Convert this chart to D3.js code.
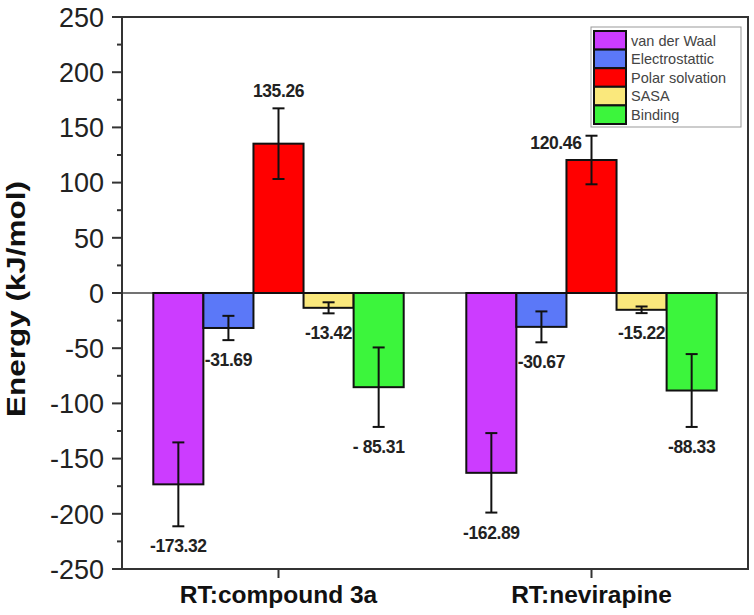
<!DOCTYPE html>
<html>
<head>
<meta charset="utf-8">
<script src="https://cdn.jsdelivr.net/npm/d3@7"></script>
<style>
  html, body { margin: 0; padding: 0; background: #fff; }
  svg { display: block; }
</style>
</head>
<body>
<svg id="chart" width="754" height="615"></svg>
<script>
// ---- data ----
const categories = ["RT:compound 3a", "RT:nevirapine"];
const seriesNames = ["van der Waal", "Electrostattic", "Polar solvation", "SASA", "Binding"];
const seriesColors = ["#cc3cff", "#5b78f8", "#ff0000", "#fae87c", "#3cf53c"];
const compound3aValues = [-173.32, -31.69, 135.26, -13.42, -85.31];
const nevirapineValues = [-162.89, -30.67, 120.46, -15.22, -88.33];
const compound3aErrors = [38, 11, 32, 5, 36];
const nevirapineErrors = [36, 14, 22, 3, 33];
const compound3aLabels = ["-173.32", "-31.69", "135.26", "-13.42", "- 85.31"];
const nevirapineLabels = ["-162.89", "-30.67", "120.46", "-15.22", "-88.33"];
const yTicks = [-250, -200, -150, -100, -50, 0, 50, 100, 150, 200, 250];
const yTitle = "Energy (kJ/mol)";

const valuesByCat = [compound3aValues, nevirapineValues];
const errorsByCat = [compound3aErrors, nevirapineErrors];
const labelsByCat = [compound3aLabels, nevirapineLabels];

const rows = [];
categories.forEach((c, ci) => {
  seriesNames.forEach((s, si) => {
    rows.push({cat: c, ci, series: s, si, value: valuesByCat[ci][si], err: errorsByCat[ci][si], label: labelsByCat[ci][si]});
  });
});

// ---- layout ----
const pLeft = 122, pRight = 748, pTop = 17, pBottom = 569;
const svg = d3.select("#chart");
const font = "'Liberation Sans', Arial, Helvetica, sans-serif";

const x0 = d3.scaleBand().domain(categories).range([pLeft, pRight]).paddingInner(0.2).paddingOuter(0.1);
const x1 = d3.scaleBand().domain(seriesNames).range([0, x0.bandwidth()]);
const y = d3.scaleLinear().domain([-250, 250]).range([pBottom, pTop]);
const color = d3.scaleOrdinal().domain(seriesNames).range(seriesColors);

// frame
svg.append("rect").attr("x", pLeft).attr("y", pTop).attr("width", pRight - pLeft).attr("height", pBottom - pTop)
  .attr("fill", "none").attr("stroke", "#333").attr("stroke-width", 2);

// zero line
svg.append("line").attr("x1", pLeft).attr("x2", pRight).attr("y1", y(0)).attr("y2", y(0))
  .attr("stroke", "#444").attr("stroke-width", 1.5);

// bars
const g = svg.append("g");
g.selectAll("rect.bar").data(rows).enter().append("rect").attr("class", "bar")
  .attr("x", d => x0(d.cat) + x1(d.series))
  .attr("width", x1.bandwidth())
  .attr("y", d => y(Math.max(0, d.value)))
  .attr("height", d => Math.abs(y(d.value) - y(0)))
  .attr("fill", d => color(d.series))
  .attr("stroke", "#111").attr("stroke-width", 2);

// error bars
const eb = g.selectAll("g.err").data(rows).enter().append("g").attr("class", "err")
  .attr("stroke", "#111").attr("stroke-width", 2);
const cx = d => x0(d.cat) + x1(d.series) + x1.bandwidth() / 2;
eb.append("line").attr("x1", cx).attr("x2", cx).attr("y1", d => y(d.value + d.err)).attr("y2", d => y(d.value - d.err));
eb.append("line").attr("x1", d => cx(d) - 6).attr("x2", d => cx(d) + 6).attr("y1", d => y(d.value + d.err)).attr("y2", d => y(d.value + d.err));
eb.append("line").attr("x1", d => cx(d) - 6).attr("x2", d => cx(d) + 6).attr("y1", d => y(d.value - d.err)).attr("y2", d => y(d.value - d.err));

// value labels
g.selectAll("text.val").data(rows).enter().append("text").attr("class", "val")
  .attr("font-family", font).attr("font-weight", "bold").attr("font-size", 17.5).attr("fill", "#222")
  .attr("letter-spacing", -0.4)
  .attr("text-anchor", d => (d.value > 0 && d.ci === 1) ? "end" : "middle")
  .attr("x", d => (d.value > 0 && d.ci === 1) ? cx(d) - 10 : cx(d))
  .attr("y", d => {
    if (d.value > 0) return d.ci === 1 ? y(d.value + d.err) + 13 : y(d.value + d.err) - 11;
    return y(d.value - d.err) + 26;
  })
  .text(d => d.label);

// y axis
const yAxis = svg.append("g").attr("transform", `translate(${pLeft},0)`);
yAxis.append("line").attr("x1", 0).attr("x2", 0).attr("y1", pTop).attr("y2", pBottom).attr("stroke", "#333").attr("stroke-width", 2);
const minorTicks = d3.range(-225, 250, 50);
yAxis.selectAll("line.minor").data(minorTicks).enter().append("line")
  .attr("x1", -5).attr("x2", 0).attr("y1", d => y(d)).attr("y2", d => y(d)).attr("stroke", "#333").attr("stroke-width", 2);
yAxis.selectAll("line.major").data(yTicks).enter().append("line")
  .attr("x1", -10).attr("x2", 0).attr("y1", d => y(d)).attr("y2", d => y(d)).attr("stroke", "#333").attr("stroke-width", 2);
yAxis.selectAll("text").data(yTicks).enter().append("text")
  .attr("x", -18).attr("y", d => y(d)).attr("dy", "0.36em")
  .attr("text-anchor", "end").attr("font-family", font).attr("font-size", 27).attr("fill", "#222")
  .text(d => d);

// x axis ticks and labels
const xAxis = svg.append("g");
xAxis.selectAll("line").data(categories).enter().append("line")
  .attr("x1", d => x0(d) + x0.bandwidth() / 2).attr("x2", d => x0(d) + x0.bandwidth() / 2)
  .attr("y1", pBottom).attr("y2", pBottom + 9).attr("stroke", "#333").attr("stroke-width", 2);
xAxis.selectAll("text").data(categories).enter().append("text")
  .attr("x", d => x0(d) + x0.bandwidth() / 2).attr("y", 603)
  .attr("text-anchor", "middle").attr("font-family", font).attr("font-weight", "bold").attr("font-size", 24.5).attr("fill", "#111")
  .text(d => d);

// y title
svg.append("text")
  .attr("transform", `translate(25,${(pTop + pBottom) / 2 + 6}) rotate(-90)`)
  .attr("text-anchor", "middle").attr("font-family", font).attr("font-weight", "bold").attr("font-size", 25).attr("fill", "#111")
  .attr("textLength", 236).attr("lengthAdjust", "spacingAndGlyphs")
  .text(yTitle);

// legend
const lg = svg.append("g").attr("transform", "translate(591,27)");
lg.append("rect").attr("x", 0).attr("y", 0).attr("width", 150).attr("height", 100)
  .attr("fill", "#fff").attr("stroke", "#999").attr("stroke-width", 1);
const rowH = 18.6;
const li = lg.selectAll("g.item").data(seriesNames).enter().append("g").attr("class", "item")
  .attr("transform", (d, i) => `translate(3,${4 + i * rowH})`);
li.append("rect").attr("x", 0).attr("y", 0).attr("width", 32).attr("height", rowH)
  .attr("fill", d => color(d)).attr("stroke", "#111").attr("stroke-width", 2);
li.append("text").attr("x", 37).attr("y", rowH / 2).attr("dy", "0.36em")
  .attr("font-family", font).attr("font-size", 14.5).attr("fill", "#444")
  .text(d => d);
</script>
</body>
</html>
